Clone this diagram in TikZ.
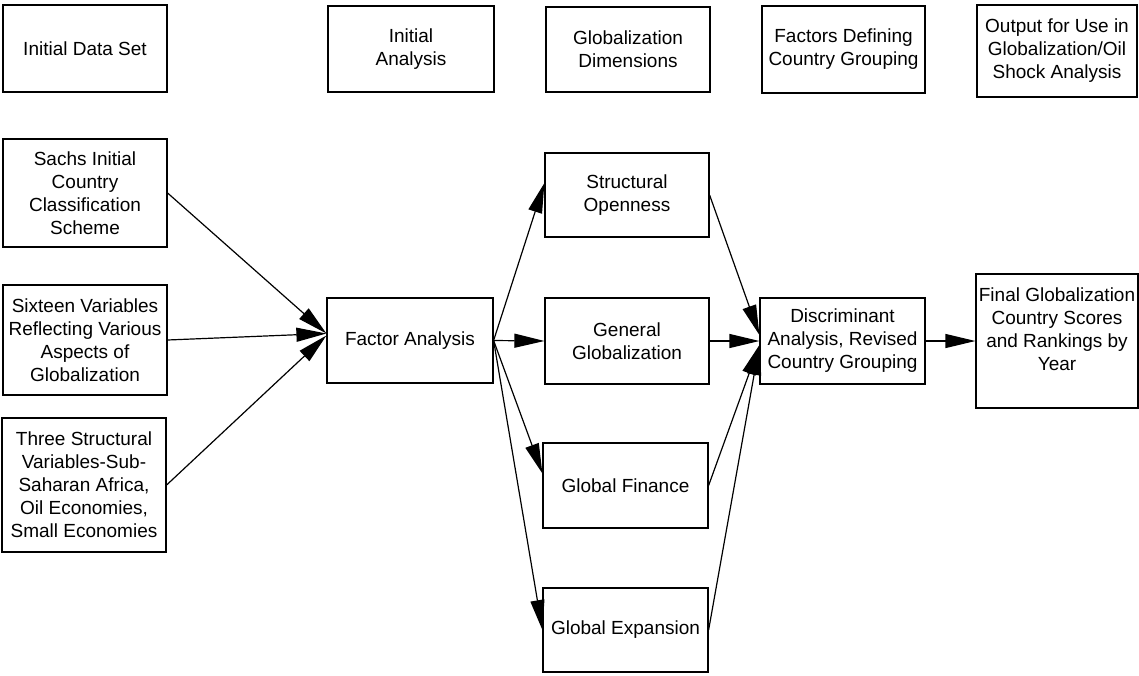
\documentclass[tikz,border=0pt]{standalone}
\usepackage{fontspec}
\setmainfont{Liberation Sans}
\usetikzlibrary{arrows.meta}
\begin{document}
\begin{tikzpicture}[x=0.5pt,y=-0.5pt,
  box/.style={draw,line width=0.6pt,align=center,inner sep=0pt,font=\fontsize{9.5}{11.5}\selectfont},
  flow/.style={line width=0.6pt,-{Triangle[length=15pt,width=7pt]}}]
\useasboundingbox (0,0) rectangle (1139,675);
\node[box,minimum width=82pt,minimum height=43.5pt] (hdata) at (85,48.5) {Initial Data Set};
\node[box,minimum width=83pt,minimum height=43pt] (hinit) at (411,49) {Initial\\Analysis};
\node[box,minimum width=82pt,minimum height=42.5pt] (hdims) at (628,49.5) {Globalization\\Dimensions};
\node[box,minimum width=81.5pt,minimum height=43.5pt] (hfact) at (843.5,49.5) {Factors Defining\\Country Grouping};
\node[box,minimum width=80pt,minimum height=46pt] (hout) at (1057,51) {Output for Use in\\Globalization/Oil\\Shock Analysis};
\node[box,minimum width=82pt,minimum height=54pt] (sachs) at (85,193) {Sachs Initial\\Country\\Classification\\Scheme};
\node[box,minimum width=82pt,minimum height=55pt] (sixteen) at (85,340) {Sixteen Variables\\Reflecting Various\\Aspects of\\Globalization};
\node[box,minimum width=82pt,minimum height=67pt] (three) at (84,485) {Three Structural\\Variables-Sub-\\Saharan Africa,\\Oil Economies,\\Small Economies};
\node[box,minimum width=83pt,minimum height=42.5pt] (factor) at (410,340.5) {Factor Analysis};
\node[box,minimum width=82pt,minimum height=42pt] (struct) at (627,195) {Structural\\Openness};
\node[box,minimum width=82pt,minimum height=43pt] (general) at (627,341) {General\\Globalization};
\node[box,minimum width=82.5pt,minimum height=42.5pt] (finance) at (625.5,485.5) {Global Finance};
\node[box,minimum width=82.5pt,minimum height=42pt] (expansion) at (625.5,630) {Global Expansion};
\node[box,minimum width=82.5pt,minimum height=43pt] (disc) at (842.5,341) {Discriminant\\Analysis, Revised\\Country Grouping};
\node[box,minimum width=81pt,minimum height=67pt,text depth=12pt] (final) at (1057,341) {Final Globalization\\Country Scores\\and Rankings by\\Year};
\draw[flow] (sachs.east) -- ([yshift=3.5pt]factor.west);
\draw[flow] (sixteen.east) -- ([yshift=3.5pt]factor.west);
\draw[flow] (three.east) -- ([yshift=2.5pt]factor.west);
\draw[flow] (factor.east) -- ([yshift=6pt]struct.west);
\draw[flow] (factor.east) -- (general.west);
\draw[flow] (factor.east) -- ([yshift=6pt]finance.west);
\draw[flow] (factor.east) -- (expansion.west);
\draw[flow] (struct.east) -- ([yshift=3pt]disc.west);
\draw[flow] (general.east) -- (disc.west);
\draw[flow] (finance.east) -- ([yshift=-2pt]disc.west);
\draw[flow] (expansion.east) -- ([yshift=-2pt]disc.west);
\draw[flow] (disc.east) -- (final.west);
\end{tikzpicture}
\end{document}
